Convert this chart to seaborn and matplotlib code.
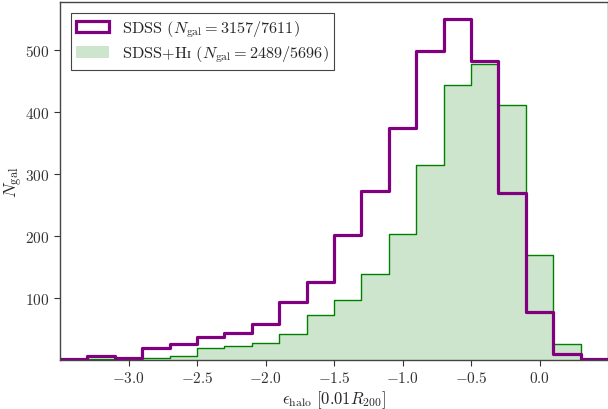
import numpy as np
import pandas as pd
import matplotlib
matplotlib.use("Agg")
import matplotlib.pyplot as plt
import seaborn as sns
from matplotlib.patches import Patch

# bin edges (width 0.2) and counts
bin_edges = [-3.5, -3.3, -3.1, -2.9, -2.7, -2.5, -2.3, -2.1, -1.9, -1.7, -1.5,
             -1.3, -1.1, -0.9, -0.7, -0.5, -0.3, -0.1, 0.1, 0.3, 0.5]
sdss_counts = [2, 6, 4, 19, 26, 37, 44, 58, 93, 126, 201, 272, 375, 498, 550,
               482, 270, 77, 9, 2]
sdss_hi_counts = [0, 1, 2, 3, 7, 19, 23, 28, 42, 73, 97, 138, 204, 314, 444,
                  477, 411, 169, 26, 2]
x_ticks = [-3.0, -2.5, -2.0, -1.5, -1.0, -0.5, 0.0]
y_ticks = [100, 200, 300, 400, 500]
label_sdss = r"SDSS ($N_{\rm gal} = 3157/7611$)"
label_hi = "SDSS+H$\\mathrm{\u026a}$ ($N_{\\rm gal} = 2489/5696$)"

sns.set_style("ticks")
plt.rcParams["font.family"] = ["cmr10", "DejaVu Sans"]
plt.rcParams["mathtext.fontset"] = "cm"
plt.rcParams["axes.formatter.use_mathtext"] = True
plt.rcParams["axes.unicode_minus"] = True

centers = [(a + b) / 2 for a, b in zip(bin_edges[:-1], bin_edges[1:])]
df = pd.DataFrame({"x": centers, "sdss": sdss_counts, "hi": sdss_hi_counts})

fig = plt.figure(figsize=(6.08, 4.10), dpi=100)
ax = fig.add_axes([60 / 608, 49 / 410, 548 / 608, 358 / 410])

sns.histplot(data=df, x="x", weights="hi", bins=bin_edges, element="step",
             fill=True, color="green", alpha=0.2, linewidth=0, ax=ax)
sns.histplot(data=df, x="x", weights="hi", bins=bin_edges, element="step",
             fill=False, color="green", linewidth=1.0, ax=ax)
sns.histplot(data=df, x="x", weights="sdss", bins=bin_edges, element="step",
             fill=False, color="purple", linewidth=2.3, ax=ax)

ax.set_xlim(-3.5, 0.5)
ax.set_ylim(0, 577.5)
ax.set_xticks(x_ticks)
ax.set_yticks(y_ticks)
ax.set_xlabel(r"$\epsilon_{\rm halo}\ [0.01R_{200}]$", fontsize=12, labelpad=2)
ax.set_ylabel(r"$N_{\rm gal}$", fontsize=12.5, labelpad=0.5)
ax.tick_params(labelsize=11, colors="#333333", length=4, width=0.8)
for s in ax.spines.values():
    s.set_color("#444444")
    s.set_linewidth(1.0)

handles = [Patch(facecolor="white", edgecolor="purple", linewidth=2.3),
           Patch(facecolor="green", alpha=0.2, linewidth=0)]
leg = ax.legend(handles, [label_sdss, label_hi], loc="upper left", fontsize=11.7,
                fancybox=False, edgecolor="#444444", framealpha=1.0,
                borderpad=0.35, labelspacing=0.3, handlelength=2.0,
                handleheight=0.7, borderaxespad=0.65)
leg.get_frame().set_linewidth(0.8)

fig.savefig("out.png", dpi=100)
